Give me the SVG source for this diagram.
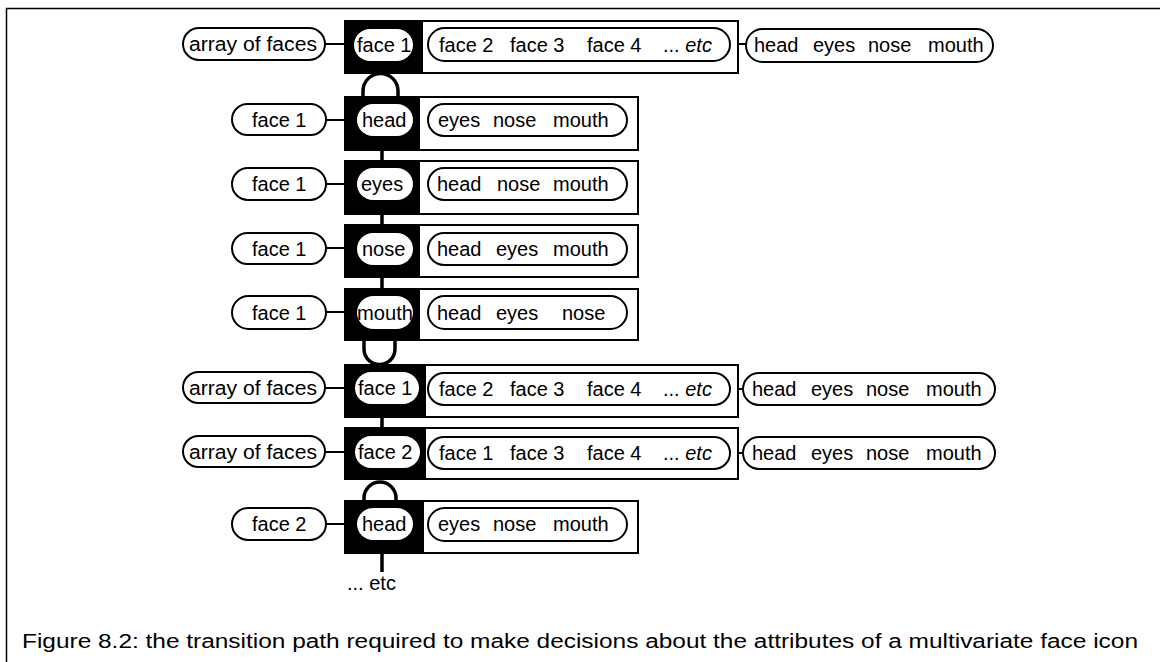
<svg xmlns="http://www.w3.org/2000/svg" width="1160" height="662" viewBox="0 0 1160 662">
<style>
text{font-family:"Liberation Sans",Arial,sans-serif;font-size:20px;fill:#000}
.box{fill:#fff;stroke:#000;stroke-width:2}
.blk{fill:#000;stroke:#000;stroke-width:2}
.pill{fill:#fff;stroke:#000;stroke-width:2}
.ipill{fill:#fff;stroke:none}
.ln{fill:none;stroke:#000;stroke-width:2}
.lnk{fill:none;stroke:#000;stroke-width:3.5}
.cap{font-size:20px}
</style>
<rect x="0" y="0" width="1160" height="662" fill="#fff"/>
<path d="M6.5,662 V8.5 H1160" fill="none" stroke="#000" stroke-width="1.5"/>

<g id="row1">
<rect class="box" x="345" y="21" width="393" height="52"/>
<rect class="blk" x="345" y="21" width="77" height="52"/>
<rect class="pill" x="183" y="28" width="142" height="32" rx="16"/>
<text x="189" y="51" textLength="128" lengthAdjust="spacingAndGlyphs">array of faces</text>
<rect class="ipill" x="354" y="29" width="59" height="32" rx="16"/>
<text x="357" y="52">face 1</text>
<rect class="pill" x="428" y="28" width="302" height="33" rx="16.5"/>
<text y="52"><tspan x="439">face 2</tspan><tspan x="510">face 3</tspan><tspan x="587">face 4</tspan><tspan x="663">... </tspan><tspan font-style="italic">etc</tspan></text>
<rect class="pill" x="746" y="29" width="247" height="33" rx="16.5"/>
<text y="52"><tspan x="754">head</tspan><tspan x="813">eyes</tspan><tspan x="868">nose</tspan><tspan x="928">mouth</tspan></text>
</g>

<g id="row2">
<rect class="box" x="345" y="97" width="293" height="53"/>
<rect class="blk" x="345" y="97" width="74" height="53"/>
<rect class="pill" x="232" y="104" width="94" height="31" rx="15.5"/>
<text x="252" y="127">face 1</text>
<rect class="ipill" x="357" y="104" width="56" height="32" rx="16"/>
<text x="362" y="127">head</text>
<rect class="pill" x="428" y="104" width="199" height="32" rx="16"/>
<text y="127"><tspan x="438">eyes</tspan><tspan x="493">nose</tspan><tspan x="553">mouth</tspan></text>
</g>

<g id="row3">
<rect class="box" x="345" y="161" width="293" height="53"/>
<rect class="blk" x="345" y="161" width="74" height="53"/>
<rect class="pill" x="232" y="168" width="94" height="32" rx="16"/>
<text x="252" y="191">face 1</text>
<rect class="ipill" x="357" y="168" width="56" height="32" rx="16"/>
<text x="361" y="191">eyes</text>
<rect class="pill" x="428" y="168" width="199" height="32" rx="16"/>
<text y="191"><tspan x="437">head</tspan><tspan x="497">nose</tspan><tspan x="553">mouth</tspan></text>
</g>

<g id="row4">
<rect class="box" x="345" y="225" width="293" height="52"/>
<rect class="blk" x="345" y="225" width="74" height="52"/>
<rect class="pill" x="232" y="233" width="94" height="31" rx="15.5"/>
<text x="252" y="256">face 1</text>
<rect class="ipill" x="357" y="233" width="56" height="32" rx="16"/>
<text x="362" y="256">nose</text>
<rect class="pill" x="428" y="233" width="199" height="32" rx="16"/>
<text y="256"><tspan x="437">head</tspan><tspan x="496">eyes</tspan><tspan x="553">mouth</tspan></text>
</g>

<g id="row5">
<rect class="box" x="345" y="289" width="293" height="51"/>
<rect class="blk" x="345" y="289" width="74" height="51"/>
<rect class="pill" x="232" y="296" width="94" height="33" rx="16.5"/>
<text x="252" y="320">face 1</text>
<rect class="ipill" x="357" y="296" width="56" height="33" rx="16.5"/>
<text x="357" y="320" textLength="56" lengthAdjust="spacingAndGlyphs">mouth</text>
<rect class="pill" x="428" y="296" width="199" height="33" rx="16.5"/>
<text y="320"><tspan x="437">head</tspan><tspan x="496">eyes</tspan><tspan x="562">nose</tspan></text>
</g>

<g id="row6">
<rect class="box" x="345" y="365" width="393" height="52"/>
<rect class="blk" x="345" y="365" width="80" height="52"/>
<rect class="pill" x="183" y="372" width="142" height="31" rx="15.5"/>
<text x="189" y="395" textLength="128" lengthAdjust="spacingAndGlyphs">array of faces</text>
<rect class="ipill" x="355" y="372" width="64" height="32" rx="16"/>
<text x="358" y="395">face 1</text>
<rect class="pill" x="428" y="373" width="302" height="32" rx="16"/>
<text y="396"><tspan x="439">face 2</tspan><tspan x="510">face 3</tspan><tspan x="587">face 4</tspan><tspan x="663">... </tspan><tspan font-style="italic">etc</tspan></text>
<rect class="pill" x="743" y="373" width="252" height="32" rx="16"/>
<text y="396"><tspan x="752">head</tspan><tspan x="811">eyes</tspan><tspan x="866">nose</tspan><tspan x="926">mouth</tspan></text>
</g>

<g id="row7">
<rect class="box" x="345" y="428" width="393" height="51"/>
<rect class="blk" x="345" y="428" width="80" height="51"/>
<rect class="pill" x="183" y="436" width="142" height="31" rx="15.5"/>
<text x="189" y="459" textLength="128" lengthAdjust="spacingAndGlyphs">array of faces</text>
<rect class="ipill" x="355" y="436" width="65" height="32" rx="16"/>
<text x="358" y="459">face 2</text>
<rect class="pill" x="428" y="437" width="302" height="32" rx="16"/>
<text y="460"><tspan x="439">face 1</tspan><tspan x="510">face 3</tspan><tspan x="587">face 4</tspan><tspan x="663">... </tspan><tspan font-style="italic">etc</tspan></text>
<rect class="pill" x="743" y="437" width="252" height="32" rx="16"/>
<text y="460"><tspan x="752">head</tspan><tspan x="811">eyes</tspan><tspan x="866">nose</tspan><tspan x="926">mouth</tspan></text>
</g>

<g id="row8">
<rect class="box" x="345" y="501" width="293" height="52"/>
<rect class="blk" x="345" y="501" width="78" height="52"/>
<rect class="pill" x="232" y="508" width="94" height="32" rx="16"/>
<text x="252" y="531">face 2</text>
<rect class="ipill" x="357" y="508" width="56" height="32" rx="16"/>
<text x="362" y="531">head</text>
<rect class="pill" x="428" y="508" width="199" height="33" rx="16.5"/>
<text y="531"><tspan x="438">eyes</tspan><tspan x="493">nose</tspan><tspan x="553">mouth</tspan></text>
</g>

<g id="connectors">
<path class="ln" d="M325,44 H345 M738,44 H746"/>
<path class="ln" d="M326,120 H345 M326,184 H345 M326,248 H345 M326,312 H345"/>
<path class="ln" d="M325,388 H345 M738,389 H743 M325,452 H345 M738,453 H743 M326,524 H345"/>
<path class="lnk" d="M363,97 V91 A17.5,17.5 0 0 1 398,91 V97"/>
<path class="lnk" d="M382,150 V161 M382,214 V225 M382,277 V289 M382,417 V428 M382,553 V572"/>
<path class="lnk" d="M364,340 V349 A15.5,15.5 0 0 0 395,349 V340"/>
<path class="lnk" d="M364,501 V498 A16,16 0 0 1 396,498 V501"/>
</g>

<g id="etc">
<text x="347" y="590">... etc</text>
</g>

<g id="caption">
<text class="cap" x="22" y="648" textLength="1116" lengthAdjust="spacingAndGlyphs">Figure 8.2: the transition path required to make decisions about the attributes of a multivariate face icon</text>
</g>
</svg>
